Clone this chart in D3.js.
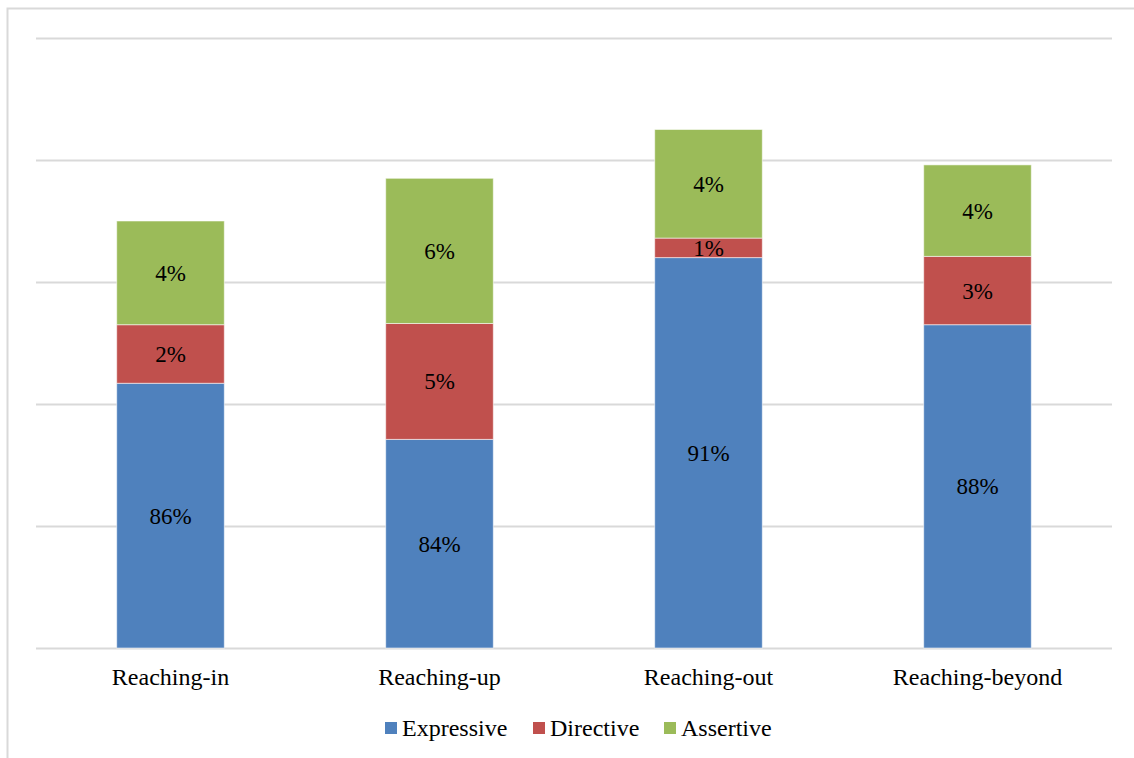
<!DOCTYPE html>
<html>
<head>
<meta charset="utf-8">
<script src="https://cdn.jsdelivr.net/npm/d3@7/dist/d3.min.js"></script>
<style>
  html, body { margin: 0; padding: 0; background: #fff; }
  svg { display: block; }
</style>
</head>
<body>
<svg id="chart" width="1134" height="758"></svg>
<script>
// Share of speech-act types per reaching stage (percent)
const categories = ["Reaching-in", "Reaching-up", "Reaching-out", "Reaching-beyond"];
const seriesNames = ["Expressive", "Directive", "Assertive"];
const expressive = [85.85, 83.55, 91.0, 88.25];
const directive  = [2.4, 4.75, 0.8, 2.8];
const assertive  = [4.25, 5.95, 4.45, 3.75];
const colors = ["#4F81BD", "#C0504D", "#9BBB59"];
const yTicks = [75, 80, 85, 90, 95, 100];

const FONT = "'Liberation Serif', 'Times New Roman', 'DejaVu Serif', serif";

const svg = d3.select("#chart");
const W = 1134, H = 758;
const margin = { left: 36, right: 22, top: 38, bottom: 110 };
const plotW = W - margin.left - margin.right;
const plotH = H - margin.top - margin.bottom;

// outer chart frame
svg.append("rect")
  .attr("x", 7.5).attr("y", 8.5)
  .attr("width", W + 10).attr("height", H + 10)
  .attr("fill", "none").attr("stroke", "#D9D9D9").attr("stroke-width", 2);

const g = svg.append("g").attr("transform", `translate(${margin.left},${margin.top})`);

const x = d3.scaleBand().domain(categories).range([0, plotW]).paddingInner(0).paddingOuter(0);
const y = d3.scaleLinear().domain([75, 100]).range([plotH, 0]);
const barW = x.bandwidth() * 0.4;

// horizontal gridlines
g.append("g")
  .selectAll("line")
  .data(yTicks)
  .join("line")
  .attr("x1", 0).attr("x2", plotW)
  .attr("y1", d => Math.round(y(d)) + 0.5).attr("y2", d => Math.round(y(d)) + 0.5)
  .attr("stroke", "#D9D9D9").attr("stroke-width", 2);

// stacked data
const rows = categories.map((c, i) => ({
  category: c,
  Expressive: expressive[i],
  Directive: directive[i],
  Assertive: assertive[i]
}));
const stack = d3.stack().keys(seriesNames)(rows);

const fmt = v => d3.format(".0f")(v) + "%";
const lo = v => Math.max(v, y.domain()[0]);

const layers = g.append("g")
  .selectAll("g")
  .data(stack)
  .join("g")
  .attr("fill", (d, i) => colors[i]);

layers.selectAll("rect")
  .data(d => d.map(s => ({ s, key: d.key })))
  .join("rect")
  .attr("x", d => x(d.s.data.category) + (x.bandwidth() - barW) / 2)
  .attr("width", barW)
  .attr("y", d => y(lo(d.s[1])))
  .attr("height", d => y(lo(d.s[0])) - y(lo(d.s[1])))
  .attr("stroke", "rgba(255,255,255,0.55)")
  .attr("stroke-width", 1);

// value labels, centred in each segment
layers.selectAll("text")
  .data(d => d.map(s => ({ s, key: d.key })))
  .join("text")
  .attr("x", d => x(d.s.data.category) + x.bandwidth() / 2)
  .attr("y", d => (y(lo(d.s[0])) + y(d.s[1])) / 2)
  .attr("dy", "0.35em")
  .attr("text-anchor", "middle")
  .attr("font-family", FONT)
  .attr("font-size", 23)
  .attr("fill", "#000")
  .text(d => fmt(d.s[1] - d.s[0]));

// category axis labels
g.append("g")
  .selectAll("text")
  .data(categories)
  .join("text")
  .attr("x", d => x(d) + x.bandwidth() / 2)
  .attr("y", plotH + 37)
  .attr("text-anchor", "middle")
  .attr("font-family", FONT)
  .attr("font-size", 24)
  .attr("fill", "#000")
  .text(d => d);

// legend
const legendX = [385, 533, 664];
const legend = svg.append("g")
  .selectAll("g")
  .data(seriesNames)
  .join("g")
  .attr("transform", (d, i) => `translate(${legendX[i]},722)`);
legend.append("rect")
  .attr("width", 12).attr("height", 12)
  .attr("fill", (d, i) => colors[i]);
legend.append("text")
  .attr("x", 17).attr("y", 14)
  .attr("font-family", FONT)
  .attr("font-size", 24)
  .attr("fill", "#000")
  .text(d => d);
</script>
</body>
</html>
